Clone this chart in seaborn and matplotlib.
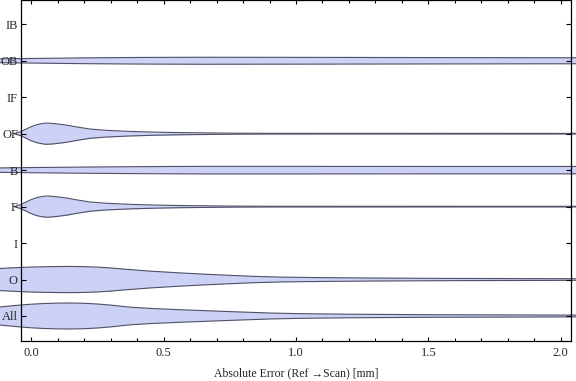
import numpy as np
import pandas as pd
import matplotlib
matplotlib.use("Agg")
import matplotlib.pyplot as plt
from matplotlib.ticker import MultipleLocator
import seaborn as sns

# ---- data ----
categories = ["All", "O", "I", "F", "B", "OF", "IF", "OB", "IB"]  # bottom -> top

# smoothed density profiles: x positions [mm] and relative density (half-width)
x_all = [-0.12, -0.08, -0.04, 0.0, 0.05, 0.10, 0.15, 0.20, 0.25, 0.30, 0.374, 0.45, 0.55,
         0.64, 0.75, 0.9, 1.0, 1.2, 1.5, 1.8, 2.07]
d_all = [9.0, 10.0, 11.0, 11.8, 12.5, 12.9, 13.0, 12.7, 12.0, 10.9, 8.8, 7.6, 6.4,
         5.5, 4.4, 3.0, 2.4, 1.8, 1.3, 1.1, 0.9]

x_o = [-0.12, -0.08, -0.04, 0.0, 0.05, 0.10, 0.15, 0.20, 0.25, 0.30, 0.35, 0.45, 0.55,
       0.65, 0.75, 0.85, 0.95, 1.1, 1.3, 1.6, 2.07]
d_o = [11.0, 11.6, 12.1, 12.5, 12.8, 13.0, 13.1, 12.9, 12.4, 11.6, 10.4, 8.4, 6.8,
       5.4, 4.2, 3.1, 2.4, 1.9, 1.5, 1.1, 0.8]

x_f = [-0.065, -0.04, -0.02, -0.005, 0.02, 0.045, 0.06, 0.08, 0.10, 0.135, 0.17, 0.22, 0.28,
       0.37, 0.46, 0.56, 0.66, 0.76, 0.9, 2.07]
d_f = [0.0, 2.0, 4.5, 6.5, 9.0, 10.3, 10.6, 10.3, 9.7, 8.5, 6.8, 4.7, 3.4,
       2.3, 1.6, 1.1, 0.8, 0.5, 0.35, 0.3]

x_b = [-0.12, 0.0, 0.2, 0.4, 0.64, 1.0, 1.5, 2.07]
d_b = [2.2, 2.6, 3.1, 3.5, 3.8, 3.8, 3.7, 3.7]

x_of = [-0.065, -0.04, -0.02, -0.005, 0.02, 0.045, 0.06, 0.08, 0.10, 0.135, 0.17, 0.22, 0.28,
        0.37, 0.46, 0.56, 0.66, 0.76, 0.9, 2.07]
d_of = [0.0, 2.0, 4.5, 6.5, 9.0, 10.3, 10.6, 10.3, 9.7, 8.5, 6.8, 4.7, 3.4,
        2.3, 1.6, 1.1, 0.8, 0.5, 0.35, 0.3]

x_ob = [-0.12, 0.0, 0.2, 0.4, 0.64, 1.0, 1.5, 2.07]
d_ob = [1.9, 2.3, 2.9, 3.3, 3.5, 3.4, 3.2, 3.0]

profiles = {
    "All": (x_all, d_all),
    "O": (x_o, d_o),
    "F": (x_f, d_f),
    "B": (x_b, d_b),
    "OF": (x_of, d_of),
    "OB": (x_ob, d_ob),
}

x_ticks = [0.0, 0.5, 1.0, 1.5, 2.0]
x_label = "Absolute Error (Ref \u2192Scan) [mm]"

# ---- style ----
sns.set_style("ticks")
plt.rcParams["font.family"] = ["Liberation Serif", "DejaVu Serif"]

fig = plt.figure(figsize=(5.76, 3.81), dpi=100)
ax = fig.add_axes([20.7 / 576, 1 - 341 / 381, (571.5 - 20.7) / 576, 341 / 381])
ax.set_axisbelow(False)

fill_col = "#ccd1f5"
edge_col = "#4e5066"
scale = 1 / 36.46  # density units -> category spacing

for cat, (xs, ds) in profiles.items():
    pos = categories.index(cat)
    xs = np.asarray(xs, float)
    ds = np.asarray(ds, float) * scale
    ax.fill_between(xs, pos - ds, pos + ds, color=fill_col, lw=0, clip_on=False, zorder=1)
    df = pd.DataFrame({"x": np.concatenate([xs, xs]),
                       "y": np.concatenate([pos + ds, pos - ds]),
                       "side": ["u"] * len(xs) + ["l"] * len(xs)})
    sns.lineplot(data=df, x="x", y="y", units="side", estimator=None, sort=False,
                 color=edge_col, lw=0.8, clip_on=False, zorder=1.2, legend=False, ax=ax)

ax.set_xlim((20.7 - 31.3) / 264.7, (571.5 - 31.3) / 264.7)
ax.set_ylim(-25 / 36.46, 8 + 24.3 / 36.46)
ax.set_yticks(range(len(categories)))
ax.set_yticklabels(categories)
ax.set_xticks(x_ticks)
ax.set_xticklabels([f"{v:.1f}" for v in x_ticks])
ax.xaxis.set_minor_locator(MultipleLocator(0.1))
ax.tick_params(axis="both", which="both", direction="in", top=True, right=True,
               labelsize=9, color="black", width=0.8)
ax.tick_params(axis="x", which="major", length=3.0, pad=4)
ax.tick_params(axis="x", which="minor", length=2.0)
ax.tick_params(axis="y", which="major", length=3.5, pad=2)
ax.set_xlabel(x_label, fontsize=8.5, labelpad=6)
ax.set_ylabel("")
for s in ax.spines.values():
    s.set_linewidth(0.9)
    s.set_color("black")
    s.set_zorder(5)

fig.savefig("out.png", dpi=100)
